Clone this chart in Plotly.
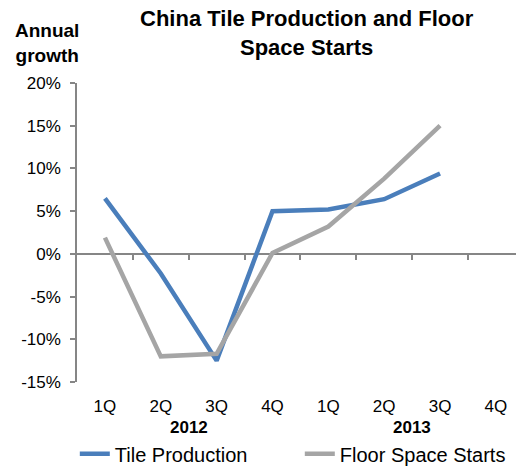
import plotly.graph_objects as go

quarters = ["1Q", "2Q", "3Q", "4Q", "1Q", "2Q", "3Q", "4Q"]
years = ["2012", "2013"]
tile_production = [6.5, -2.3, -12.5, 5.0, 5.2, 6.4, 9.4, None]
floor_space_starts = [1.9, -12.0, -11.7, 0.1, 3.2, 8.8, 15.0, None]
y_tick_values = [-15, -10, -5, 0, 5, 10, 15, 20]
y_tick_labels = ["-15%", "-10%", "-5%", "0%", "5%", "10%", "15%", "20%"]

xpos = list(range(len(quarters)))
BLUE = "#4a7ebb"
GRAY = "#a5a5a5"
AXIS = "#868686"
FONT = "Liberation Sans, Arial, sans-serif"

fig = go.Figure()
fig.add_trace(go.Scatter(x=xpos, y=tile_production, mode="lines", name="Tile Production",
                         line=dict(color=BLUE, width=4.5), xaxis="x", yaxis="y"))
fig.add_trace(go.Scatter(x=xpos, y=floor_space_starts, mode="lines", name="Floor Space Starts",
                         line=dict(color=GRAY, width=4.5), xaxis="x2", yaxis="y"))

y_min, y_max = -15, 20
zero_frac = (0 - y_min) / (y_max - y_min)
xr = [-0.5, 7.36]

fig.update_layout(
    width=516, height=467,
    margin=dict(l=77, r=0, t=83, b=85, autoexpand=False),
    paper_bgcolor="white", plot_bgcolor="white",
    font=dict(family=FONT, color="black", size=17),
    showlegend=True,
    legend=dict(orientation="h", x=-0.005, xanchor="left", y=-0.24, yanchor="middle",
                font=dict(size=20), entrywidth=180, entrywidthmode="pixels",
                tracegroupgap=0, bgcolor="rgba(0,0,0,0)"),
    xaxis=dict(range=xr, tickvals=xpos, ticktext=quarters,
               showline=False, showgrid=False, zeroline=False, ticks="",
               ticklabelstandoff=12, tickfont=dict(size=17)),
    xaxis2=dict(range=xr, overlaying="x", anchor="free", position=zero_frac,
                tickvals=[i + 0.5 for i in xpos], showticklabels=False,
                ticks="outside", ticklen=5, tickwidth=1.5, tickcolor=AXIS,
                showline=True, linecolor=AXIS, linewidth=1.5, showgrid=False,
                zeroline=False, layer="below traces"),
    yaxis=dict(range=[y_min, y_max], tickvals=y_tick_values, ticktext=y_tick_labels,
               showline=True, linecolor=AXIS, linewidth=1.5,
               ticks="outside", ticklen=5, tickwidth=1.5, tickcolor=AXIS,
               ticklabelstandoff=6,
               showgrid=False, zeroline=False, tickfont=dict(size=17)),
)

def paper_y(px):
    return (381.7 - px) / 298.7

def paper_x(px):
    return (px - 77) / 439

fig.add_annotation(text="<b>China Tile Production and Floor<br>Space Starts</b>",
                   xref="paper", yref="paper", x=paper_x(307), y=paper_y(33.5),
                   xanchor="center", yanchor="middle", showarrow=False,
                   font=dict(size=22))
fig.add_annotation(text="<b>Annual<br>growth</b>", xref="paper", yref="paper",
                   x=paper_x(47), y=paper_y(43), xanchor="center", yanchor="middle",
                   showarrow=False, font=dict(size=19))
for i, yr in enumerate(years):
    fig.add_annotation(text="<b>" + yr + "</b>", xref="x", yref="paper",
                       x=4 * i + 1.5, y=paper_y(427), xanchor="center", yanchor="middle",
                       showarrow=False, font=dict(size=17))

fig.write_html("out.html", config={"displayModeBar": False},
               post_script="document.body.style.margin='0';document.body.style.padding='0';")
